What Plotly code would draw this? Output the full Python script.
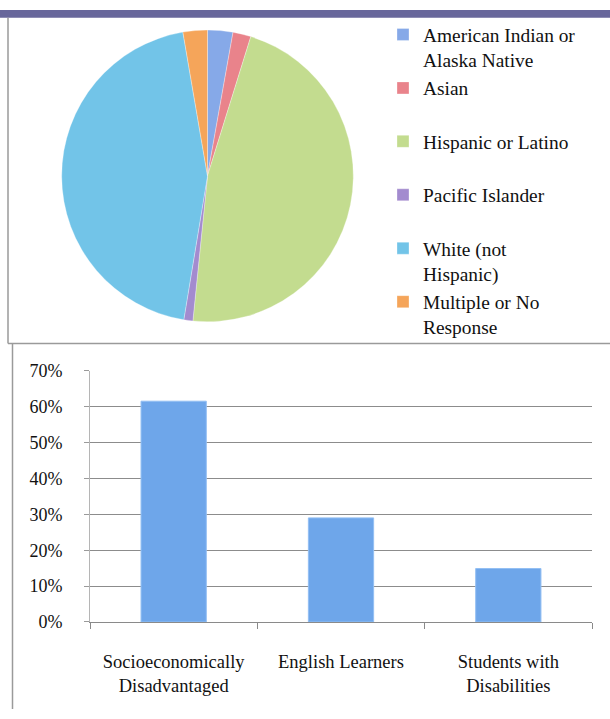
import plotly.graph_objects as go

# ---- data ----
eth_labels = [
    "American Indian or<br>Alaska Native",
    "Asian<br> ",
    "Hispanic or Latino<br> ",
    "Pacific Islander<br> ",
    "White (not<br>Hispanic)",
    "Multiple or No<br>Response",
]
eth_values = [2.8, 2.0, 46.8, 1.0, 44.7, 2.7]
eth_colors = ["#86a9e8", "#e9838b", "#c3dc8f", "#a38bcf", "#72c4e8", "#f5a55a"]

grp_labels = ["Socioeconomically<br>Disadvantaged", "English Learners", "Students with<br>Disabilities"]
grp_values = [61.5, 29.0, 14.9]
y_ticks = [0, 10, 20, 30, 40, 50, 60, 70]

W, H = 610, 719
def px(x):
    return x / W
def py(y):
    return 1 - y / H

SERIF = "Liberation Serif, Times New Roman, serif"

fig = go.Figure()

fig.add_trace(go.Pie(
    labels=eth_labels,
    values=eth_values,
    sort=False,
    direction="clockwise",
    rotation=0,
    textinfo="none",
    hoverinfo="label+percent",
    marker=dict(colors=eth_colors, line=dict(color="rgba(255,255,255,0.6)", width=0.5)),
    domain=dict(x=[px(57.5), px(357.5)], y=[py(320.6), py(20.6)]),
    showlegend=True,
))

fig.add_trace(go.Bar(
    x=grp_labels,
    y=grp_values,
    marker=dict(color="#6ea6ea", line=dict(color="#93bff3", width=1)),
    showlegend=False,
    xaxis="x",
    yaxis="y",
))

fig.update_layout(
    width=W, height=H,
    margin=dict(l=0, r=0, t=0, b=0),
    paper_bgcolor="white",
    plot_bgcolor="white",
    bargap=0.61,
    font=dict(family=SERIF, color="#1a1a1a"),
    legend=dict(
        x=px(383), y=py(5.5), xanchor="left", yanchor="top",
        font=dict(family=SERIF, size=19.4, color="#111111"),
        bgcolor="rgba(0,0,0,0)",
        valign="top",
        traceorder="normal",
    ),
    xaxis=dict(
        domain=[px(90), px(592)],
        anchor="y",
        type="category",
        showgrid=False,
        showline=True, linecolor="#8a8a8a", linewidth=1,
        ticks="outside", tickson="boundaries", ticklen=6, tickcolor="#8a8a8a",
        tickfont=dict(family=SERIF, size=18.5, color="#111111"),
        ticklabelstandoff=23,
        zeroline=False,
        fixedrange=True,
    ),
    yaxis=dict(
        domain=[py(629.5), py(371)],
        anchor="x",
        range=[0, 70],
        tickvals=y_ticks,
        ticktext=[f"{v}%" for v in y_ticks],
        showgrid=True, gridcolor="#8c8c8c", gridwidth=1,
        showline=True, linecolor="#b5b5b5", linewidth=1,
        ticks="outside", ticklen=5, tickcolor="#9a9a9a",
        tickfont=dict(family=SERIF, size=18, color="#111111"),
        ticklabelstandoff=18,
        zeroline=False,
        fixedrange=True,
    ),
    shapes=[
        dict(type="rect", xref="paper", yref="paper", x0=0, x1=1, y0=py(8), y1=1,
             fillcolor="#68679b", line=dict(width=0), layer="above"),
        dict(type="line", xref="paper", yref="paper", x0=px(8), x1=px(8), y0=py(343), y1=py(8),
             line=dict(color="#9a9a9a", width=1.5)),
        dict(type="line", xref="paper", yref="paper", x0=px(8), x1=1, y0=py(343), y1=py(343),
             line=dict(color="#9a9a9a", width=1.5)),
        dict(type="line", xref="paper", yref="paper", x0=px(12.5), x1=px(12.5), y0=0, y1=py(343),
             line=dict(color="#9a9a9a", width=1.5)),
    ],
)

fig.write_html(
    "out.html",
    config={"displayModeBar": False},
    post_script="document.body.style.margin='0';document.body.style.overflow='hidden';",
)
